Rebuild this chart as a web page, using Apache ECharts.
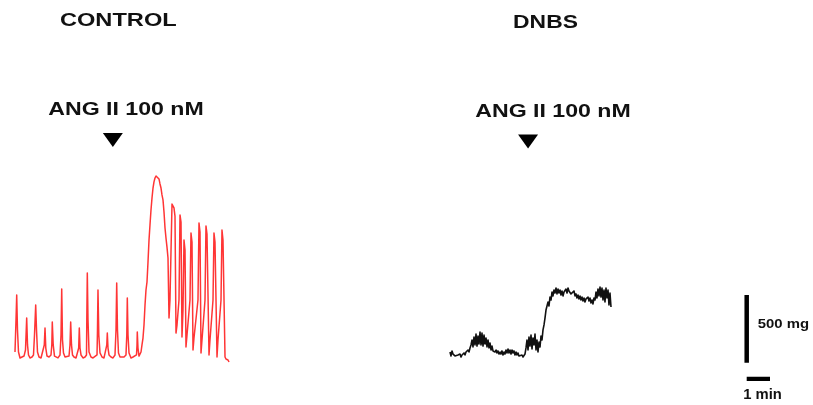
<!DOCTYPE html>
<html>
<head>
<meta charset="utf-8">
<script src="https://cdn.jsdelivr.net/npm/echarts@6/dist/echarts.min.js"></script>
<style>
  html, body { margin: 0; padding: 0; background: #ffffff; }
  #chart { width: 813px; height: 405px; }
</style>
</head>
<body>
<div id="chart"></div>
<script>
// Isometric tension recordings of colonic strips challenged with ANG II 100 nM.
// Each trace point is [time (s), tension (mg) above resting tone].

const controlTrace = [
  [0,37],[2.6,273],[4.4,458],[6.4,199],[9.0,37],[12.9,-7],[18.0,0],[23.2,7],
  [27.0,52],[30.1,288],[32.2,89],[34.8,15],[38.6,-7],[43.8,0],[47.6,15],
  [50.2,162],[53.3,384],[55.4,199],[57.9,37],[61.8,0],[67.0,-7],[72.1,7],
  [75.4,89],[77.3,214],[79.3,66],[82.4,7],[87.6,0],[92.7,15],
  [94.8,89],[96.0,259],[98.4,89],[101.7,7],[105.6,0],[110.7,-7],[115.9,15],
  [118.5,162],[120.3,502],[122.3,126],[124.9,30],[128.8,0],[133.9,-7],[139.1,7],
  [141.6,89],[143.4,259],[145.5,89],[148.1,15],[151.9,0],[157.1,-7],[162.2,7],
  [164.0,66],[165.6,214],[167.4,66],[170.0,15],[175.1,-7],[180.3,0],[184.1,15],
  [184.9,273],[186.2,620],[188.0,273],[190.6,37],[195.7,0],[200.9,-7],[206.0,0],[211.2,15],
  [212.4,199],[213.7,495],[215.8,162],[218.9,30],[224.0,0],[229.2,-7],[234.3,7],
  [236.4,89],[237.7,177],[239.5,66],[242.1,15],[247.2,0],[252.4,-7],[257.5,15],
  [260.1,199],[261.9,547],[263.9,199],[266.5,30],[270.4,0],[275.5,-7],[280.7,0],[285.8,15],
  [287.9,162],[289.2,436],[291.0,162],[293.6,30],[298.7,-7],[303.9,0],[309.0,-7],[312.9,15],
  [314.2,89],[314.9,185],[316.7,66],[319.3,7],[321.9,-7],[324.5,37],
  [327.0,89],[329.6,140],[332.2,236],[334.8,384],[337.3,495],[339.9,554],[342.5,702],
  [345.1,864],[347.6,975],[350.2,1086],[352.8,1174],[355.4,1248],[357.9,1293],[360.5,1322],
  [363.1,1337],[365.7,1344],[368.2,1329],[370.8,1315],[373.4,1278],[376.0,1248],[378.5,1197],
  [381.1,1160],[383.7,1071],[386.3,953],[388.8,879],[391.4,812],[394.0,731],[396.6,288],[399.1,421],
  [404.3,1130],[406.9,1123],[409.4,1101],[412.0,1041],[414.6,177],[417.2,236],[422.3,421],
  [424.9,1049],[427.5,997],[430.0,148],[432.6,347],[435.2,864],[437.8,790],[440.3,74],[442.9,162],[450.6,421],
  [453.2,916],[455.8,849],[458.4,52],[460.9,140],[471.2,421],
  [473.8,990],[476.4,923],[479.0,30],[481.5,126],[489.3,421],
  [491.8,968],[494.4,908],[499.6,15],[502.1,126],[509.9,421],
  [512.4,916],[515.0,849],[520.2,0],[522.7,126],[530.5,421],
  [533.0,938],[535.6,864],[540.8,0],[543.3,-15],[548.5,-22],[551.1,-37]
];

const dnbsTrace = [
  [0,22],[2.6,-7],[5.2,30],[7.7,7],[10.3,15],[12.9,-7],[15.5,7],[18.0,-15],[20.6,0],[23.2,-7],
  [25.8,7],[28.3,-15],[30.9,0],[33.5,-7],[36.1,15],[38.6,0],[41.2,22],[43.8,15],[46.4,37],[48.9,22],
  [51.5,52],[54.1,74],[56.7,111],[59.2,59],[61.8,133],[64.4,74],[67.0,155],[69.5,66],[72.1,140],[74.7,81],
  [77.3,170],[79.8,74],[82.4,162],[85.0,66],[87.6,148],[90.1,81],[92.7,126],[95.3,59],[97.9,111],[100.4,52],
  [103.0,89],[105.6,37],[108.2,66],[110.7,30],[113.3,44],[115.9,22],[118.5,37],[121.0,15],[123.6,30],[126.2,7],
  [128.8,22],[131.3,7],[133.9,30],[136.5,0],[139.1,22],[141.6,7],[144.2,37],[146.8,15],[149.4,44],[151.9,15],
  [154.5,37],[157.1,7],[159.7,37],[162.2,15],[164.8,30],[167.4,0],[170.0,22],[172.5,0],[175.1,15],[177.7,-7],
  [180.3,7],[182.8,-15],[185.4,0],[188.0,-15],[190.6,-7],[193.1,7],[195.7,52],[198.3,111],[200.9,37],[203.4,133],
  [206.0,66],[208.6,148],[211.2,44],[213.7,126],[216.3,74],[218.9,155],[221.5,37],[224.0,111],[226.6,22],[229.2,96],
  [231.8,59],[234.3,140],[236.9,111],[239.5,185],[242.1,222],[244.6,273],[247.2,332],[249.8,318],[252.4,391],[254.9,362],
  [257.5,428],[260.1,406],[262.7,465],[265.2,436],[267.8,480],[270.4,458],[273.0,495],[275.5,451],[278.1,487],[280.7,458],
  [283.3,480],[285.8,443],[288.4,473],[291.0,436],[293.6,465],[296.1,451],[298.7,487],[301.3,458],[303.9,495],[306.4,473],
  [309.0,487],[311.6,451],[314.2,465],[316.7,443],[319.3,473],[321.9,436],[324.5,451],[327.0,421],[329.6,443],[332.2,414],
  [334.8,436],[337.3,406],[339.9,428],[342.5,399],[345.1,421],[347.6,391],[350.2,414],[352.8,406],[355.4,428],[357.9,399],
  [360.5,421],[363.1,384],[365.7,406],[368.2,377],[370.8,421],[373.4,406],[376.0,465],[378.5,421],[381.1,487],[383.7,436],
  [386.3,502],[388.8,428],[391.4,495],[394.0,406],[396.6,480],[399.1,391],[401.7,495],[404.3,421],[406.9,480],[409.4,369],
  [412.0,458],[414.6,355]
];

// Time of ANG II addition (s) in each recording
const angAdditionS = { control: 252, dnbs: 201 };

// Calibration bars
const scaleTensionMg = 500;
const scaleTimeS = 60;

// ---- layout ----
const PX_PER_MIN = 23.3;
const PX_PER_S = PX_PER_MIN / 60;
const PX_PER_MG = 67.7 / 500;

// each panel: pixel position of (t = 0, tension = 0) and its visible ranges
const panels = [
  { originX: 15,  originY: 357, tMin: 0, tMax: 600, mgMin: -150, mgMax: 1800, arrowMg: 1603 },
  { originX: 450, originY: 355, tMin: 0, tMax: 450, mgMin: -150, mgMax: 1800, arrowMg: 1577 },
  { originX: 746.7, originY: 362.7, tMin: -30, tMax: 30, mgMin: 0, mgMax: 600 },
  { originX: 746.7, originY: 378.8, tMin: 0, tMax: 90, mgMin: -100, mgMax: 100 }
];

function gridOf(p) {
  return {
    left: p.originX + p.tMin * PX_PER_S,
    top: p.originY - p.mgMax * PX_PER_MG,
    width: (p.tMax - p.tMin) * PX_PER_S,
    height: (p.mgMax - p.mgMin) * PX_PER_MG,
    containLabel: false,
    outerBoundsMode: 'none'
  };
}

const FONT = '"Liberation Sans", Arial, Helvetica, sans-serif';

function label(text, x, y, size, scaleX, align) {
  return {
    type: 'text',
    x: x, y: y,
    scaleX: scaleX,
    silent: true,
    style: {
      text: text,
      fontSize: size,
      fontWeight: 'bold',
      fontFamily: FONT,
      fill: '#111111',
      align: align,
      textAlign: align,
      verticalAlign: 'middle',
      textVerticalAlign: 'middle'
    }
  };
}

function traceSeries(idx, data, color, width) {
  return {
    type: 'line',
    xAxisIndex: idx, yAxisIndex: idx,
    data: data,
    showSymbol: false,
    symbol: 'none',
    smooth: false,
    sampling: null,
    silent: true,
    animation: false,
    lineStyle: { color: color, width: width, join: 'round' }
  };
}

function arrowSeries(idx, t, mg) {
  return {
    type: 'scatter',
    xAxisIndex: idx, yAxisIndex: idx,
    data: [[t, mg]],
    symbol: 'triangle',
    symbolRotate: 180,
    symbolSize: [20, 14],
    silent: true,
    animation: false,
    itemStyle: { color: '#000000', opacity: 1 }
  };
}

const chart = echarts.init(document.getElementById('chart'), null, { renderer: 'canvas' });

chart.setOption({
  backgroundColor: '#ffffff',
  animation: false,
  grid: panels.map(gridOf),
  xAxis: panels.map((p, i) => ({ type: 'value', gridIndex: i, min: p.tMin, max: p.tMax, show: false })),
  yAxis: panels.map((p, i) => ({ type: 'value', gridIndex: i, min: p.mgMin, max: p.mgMax, show: false })),
  series: [
    traceSeries(0, controlTrace, '#ff3535', 1.5),
    arrowSeries(0, angAdditionS.control, panels[0].arrowMg),
    traceSeries(1, dnbsTrace, '#111111', 1.6),
    arrowSeries(1, angAdditionS.dnbs, panels[1].arrowMg),
    {
      type: 'line', xAxisIndex: 2, yAxisIndex: 2,
      data: [[0, 0], [0, scaleTensionMg]],
      showSymbol: false, symbol: 'none', clip: false, silent: true, animation: false,
      lineStyle: { color: '#000000', width: 4.5, cap: 'butt' }
    },
    {
      type: 'line', xAxisIndex: 3, yAxisIndex: 3,
      data: [[0, 0], [scaleTimeS, 0]],
      showSymbol: false, symbol: 'none', clip: false, silent: true, animation: false,
      lineStyle: { color: '#000000', width: 4.3, cap: 'butt' }
    }
  ],
  graphic: [
    label('CONTROL', 118.3, 21.3, 17.5, 1.35, 'center'),
    label('ANG II 100 nM', 126, 110, 18.5, 1.25, 'center'),
    label('DNBS', 545.5, 23.5, 18, 1.27, 'center'),
    label('ANG II 100 nM', 553, 111.5, 18.5, 1.25, 'center'),
    label(scaleTensionMg + ' mg', 757.7, 324.5, 12, 1.24, 'left'),
    label('1 min', 762.5, 395.3, 14.5, 1.02, 'center')
  ]
});
</script>
</body>
</html>
